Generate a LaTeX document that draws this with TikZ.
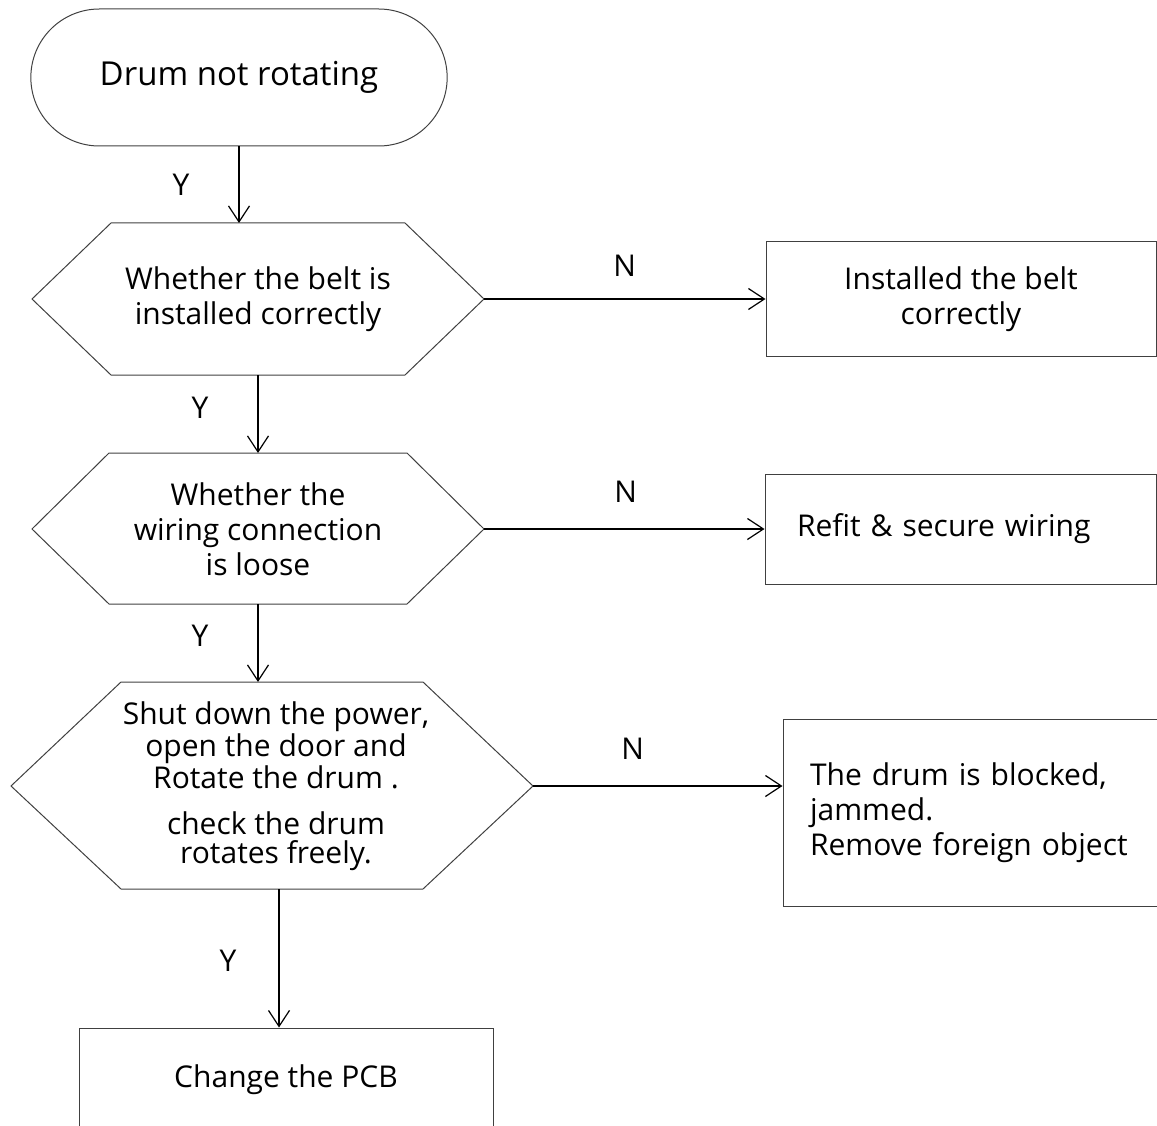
\documentclass[tikz,border=0pt]{standalone}
\usepackage{fontspec}
\setmainfont{Open Sans}
\usetikzlibrary{arrows.meta,shapes.misc}
\tikzset{
  shp/.style={draw=black!75, line width=1pt},
  boxnode/.style={shp, rectangle, align=center},
  arr/.style={draw, line width=1.2pt, -{Straight Barb[length=16pt,width=21pt,line width=1.2pt]}},
  lbl/.style={inner sep=0pt},
}
\begin{document}
\begin{tikzpicture}[x=1pt,y=-1pt, font=\fontsize{30}{35}\selectfont]
\useasboundingbox (0,0) rectangle (1157,1126);
\clip (0,0) rectangle (1157,1126);
% start
\node (start) at (239,77.5) [shp, rounded rectangle, minimum width=423pt, minimum height=137pt, font=\fontsize{33}{38}\selectfont] {Drum not rotating};
% decisions
\node (q1) at (258,299) [align=center] {Whether the belt is\\installed correctly};
\draw[shp] (32,299) -- (111,223) -- (405,223) -- (484,299) -- (405,375) -- (111,375) -- cycle;
\coordinate (q1n) at (239,223); \coordinate (q1e) at (484,299); \coordinate (q1s) at (258,375);
\node (q2) at (258,529) [align=center] {Whether the\\wiring connection\\is loose};
\draw[shp] (32,529) -- (109,453) -- (407,453) -- (484,529) -- (407,604) -- (109,604) -- cycle;
\coordinate (q2n) at (258,453); \coordinate (q2e) at (484,529); \coordinate (q2s) at (258,604);
\node (q3) at (276,786) [align=center, font=\fontsize{30}{32}\selectfont] {Shut down the power,\\open the door and\\Rotate the drum .\\[14pt]check the drum\\[-3pt]rotates freely.};
\draw[shp] (11,786) -- (121,682) -- (423,682) -- (533,786) -- (423,889) -- (121,889) -- cycle;
\coordinate (q3n) at (258,682); \coordinate (q3e) at (533,786); \coordinate (q3s) at (279,889);
% actions
\node (fix1) at (961,299) [boxnode, minimum width=390pt, minimum height=114pt] {Installed the belt\\correctly};
\node (fix2) at (960.5,529) [shp, rectangle, align=left, text width=327pt, inner xsep=32pt, minimum height=110pt] {Refit \& secure wiring};
\node (fix3) at (991.5,812.5) [shp, rectangle, align=left, text width=363pt, inner xsep=27pt, minimum height=187pt] {The drum is blocked,\\jammed.\\Remove foreign object};
\node (pcb) at (286,1080) [boxnode, minimum width=414pt, minimum height=104pt] {Change the PCB};
% connectors
\draw[arr] (q1n |- start.south) -- node[lbl, xshift=-58pt] {Y} (q1n);
\draw[arr] (q1s) -- node[lbl, pos=0.42, xshift=-58pt] {Y} (q2n);
\draw[arr] (q2s) -- node[lbl, pos=0.41, xshift=-58pt] {Y} (q3n);
\draw[arr] (q3s) -- node[lbl, pos=0.52, xshift=-51pt] {Y} (q3s |- pcb.north);
\draw[arr] (q1e) -- node[lbl, pos=0.5, yshift=33pt] {N} (fix1.west);
\draw[arr] (q2e) -- node[lbl, pos=0.505, yshift=37pt] {N} (fix2.west);
\draw[arr] (q3e) -- node[lbl, pos=0.4, yshift=37pt] {N} (q3e -| fix3.west);
\end{tikzpicture}
\end{document}
